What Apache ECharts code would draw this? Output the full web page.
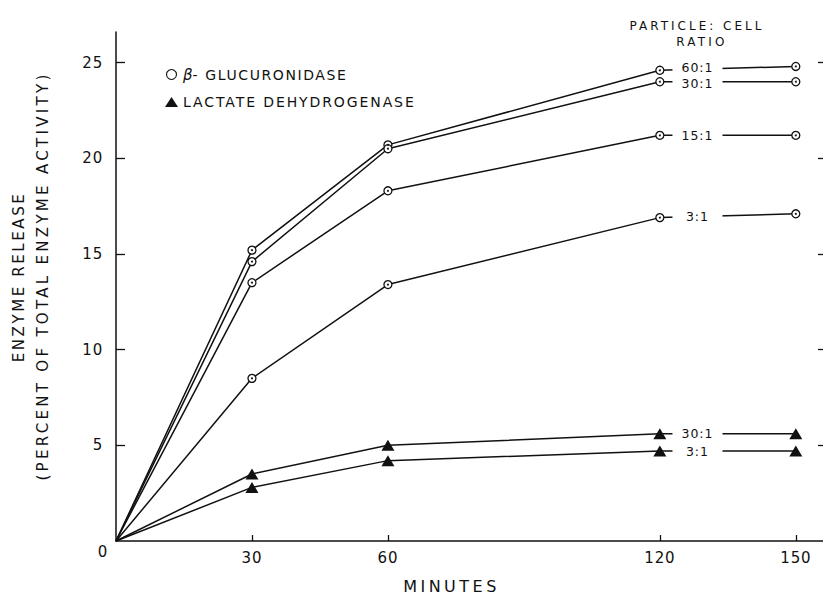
<!DOCTYPE html>
<html>
<head>
<meta charset="utf-8">
<script src="https://cdn.jsdelivr.net/npm/echarts@6/dist/echarts.min.js"></script>
<style>
html, body { margin: 0; padding: 0; background: #fff; }
#chart { width: 823px; height: 596px; }
</style>
</head>
<body>
<div id="chart"></div>
<script>
// ---- data ----
const minutes = [0, 30, 60, 120, 150];
const gluc60 = [0, 15.2, 20.7, 24.6, 24.8];
const gluc30 = [0, 14.6, 20.5, 24.0, 24.0];
const gluc15 = [0, 13.5, 18.3, 21.2, 21.2];
const gluc3  = [0, 8.5, 13.4, 16.9, 17.1];
const ldh30  = [0, 3.5, 5.0, 5.6, 5.6];
const ldh3   = [0, 2.8, 4.2, 4.7, 4.7];
const glucRatios = ['60:1', '30:1', '15:1', '3:1'];
const ldhRatios = ['30:1', '3:1'];
const xTickValues = [30, 60, 120, 150];
const xLabelValues = [0, 30, 60, 120, 150];
const yTickValues = [5, 10, 15, 20, 25];
const GLUC = 'β- GLUCURONIDASE';
const LDH = 'LACTATE DEHYDROGENASE';
const Y_TITLE_1 = 'ENZYME RELEASE';
const Y_TITLE_2 = '(PERCENT OF TOTAL ENZYME ACTIVITY)';
const HEAD_1 = 'PARTICLE: CELL';
const HEAD_2 = 'RATIO';
const LABEL_X = 128.3; // minutes position of the ratio labels between 120 and 150

// ---- styling ----
const INK = '#111';
const FONT = 'DejaVu Sans';
const GLUC_LABEL_NUDGE = [-1.3, 1.3, 0, 0]; // px, keeps the two close top labels apart
const SPACING = {};
SPACING[Y_TITLE_1] = 2.6;
SPACING[Y_TITLE_2] = 3.3;
SPACING['MINUTES'] = 3.5;
SPACING[HEAD_1] = 3;
SPACING[HEAD_2] = 3.2;
SPACING[LDH] = 1.9;
SPACING['- GLUCURONIDASE'] = 1.6;
SPACING['β'] = 0;

const glucSeries = [gluc60, gluc30, gluc15, gluc3];
const ldhSeries = [ldh30, ldh3];

function lineData(vals) {
  return minutes.map((m, i) => i === 0 ? { value: [m, vals[i]], symbol: 'none' } : [m, vals[i]]);
}
function labelPoint(vals, text, nudge) {
  const a = minutes.indexOf(120), b = minutes.indexOf(150);
  const y = vals[a] + (vals[b] - vals[a]) * (LABEL_X - minutes[a]) / (minutes[b] - minutes[a]);
  return { value: [LABEL_X, y], name: text, label: { offset: [0, nudge || 0] } };
}

const series = [];
glucSeries.forEach(vals => {
  series.push({
    type: 'line', name: GLUC, data: lineData(vals),
    symbol: 'circle', symbolSize: 8,
    lineStyle: { color: INK, width: 1.5 },
    itemStyle: { color: '#fff', borderColor: INK, borderWidth: 1.3 },
    silent: true
  });
});
ldhSeries.forEach(vals => {
  series.push({
    type: 'line', name: LDH, data: lineData(vals),
    symbol: 'triangle', symbolSize: [13, 11],
    lineStyle: { color: INK, width: 1.5 },
    itemStyle: { color: INK },
    silent: true
  });
});
// center dots of the open circles
series.push({
  type: 'scatter', name: 'centers', silent: true, z: 4,
  symbolSize: 2, itemStyle: { color: INK, opacity: 1 },
  data: glucSeries.flatMap(vals => minutes.map((m, i) => [m, vals[i]]).filter((p, i) => i > 0))
});
// ratio labels, set in a white gap of the 120-150 segment
series.push({
  type: 'scatter', name: 'ratios', silent: true, z: 10,
  symbol: 'rect', symbolSize: [50, 10], itemStyle: { color: '#fff', opacity: 1 },
  data: glucSeries.map((v, i) => labelPoint(v, glucRatios[i], GLUC_LABEL_NUDGE[i]))
    .concat(ldhSeries.map((v, i) => labelPoint(v, ldhRatios[i], 0))),
  label: {
    show: true, position: 'inside', formatter: p => p.name,
    color: INK, fontSize: 12.5, fontFamily: FONT, lineHeight: 12
  }
});

const option = {
  animation: false,
  backgroundColor: '#fff',
  grid: { left: 116, right: 0, top: 32, bottom: 55, containLabel: false, outerBoundsMode: 'none' },
  legend: {
    left: 160, top: 62, orient: 'vertical', itemGap: 13,
    itemWidth: 13, itemHeight: 10,
    data: [{ name: GLUC, icon: 'circle', itemStyle: { borderWidth: 1.1 } }, { name: LDH, icon: 'triangle' }],
    formatter: name => name === GLUC ? '{i|β}{t|- GLUCURONIDASE}' : name,
    textStyle: {
      color: INK, fontSize: 14, fontFamily: FONT,
      rich: {
        i: { fontStyle: 'italic', fontSize: 15, fontFamily: FONT, color: INK },
        t: { fontSize: 14, fontFamily: FONT, color: INK }
      }
    },
    selectedMode: false
  },
  xAxis: {
    type: 'value', min: 0, max: 156,
    axisLine: { show: true, lineStyle: { color: INK, width: 1.5 } },
    axisTick: { show: true, inside: true, length: 6, customValues: xTickValues, lineStyle: { color: INK, width: 1.3 } },
    axisLabel: {
      customValues: xLabelValues, margin: 3,
      formatter: v => v === 0 ? '{z|0}' : '{n|' + v + '}',
      rich: {
        z: { padding: [0, 26, 0, 0], fontSize: 15, fontFamily: FONT, color: INK },
        n: { padding: [6, 0, 0, 0], fontSize: 15, fontFamily: FONT, color: INK }
      }
    },
    splitLine: { show: false },
    name: 'MINUTES', nameLocation: 'middle', nameGap: 37,
    nameTextStyle: { fontSize: 16, fontFamily: FONT, color: INK, padding: [0, 36, 0, 0] }
  },
  yAxis: [{
    type: 'value', min: 0, max: 26.6, position: 'left',
    axisLine: { show: true, lineStyle: { color: INK, width: 1.5 } },
    axisTick: { show: true, inside: true, length: 9, customValues: yTickValues, lineStyle: { color: INK, width: 1.3 } },
    axisLabel: { customValues: yTickValues, margin: 13, fontSize: 15, fontFamily: FONT, color: INK },
    splitLine: { show: false }
  }, {
    type: 'value', min: 0, max: 26.6, position: 'right',
    axisLine: { show: false },
    axisTick: { show: true, inside: true, length: 5, customValues: yTickValues, lineStyle: { color: INK, width: 1.3 } },
    axisLabel: { show: false },
    splitLine: { show: false }
  }],
  graphic: [{
    type: 'text', x: 19, y: 277, rotation: Math.PI / 2, silent: true,
    style: { text: Y_TITLE_1, align: 'center', verticalAlign: 'middle', fontSize: 15, fontFamily: FONT, fill: INK }
  }, {
    type: 'text', x: 43, y: 276, rotation: Math.PI / 2, silent: true,
    style: { text: Y_TITLE_2, align: 'center', verticalAlign: 'middle', fontSize: 15, fontFamily: FONT, fill: INK }
  }, {
    type: 'text', x: 697, y: 26, silent: true,
    style: { text: HEAD_1, align: 'center', verticalAlign: 'middle', fontSize: 12, fontFamily: FONT, fill: INK }
  }, {
    type: 'text', x: 702, y: 42, silent: true,
    style: { text: HEAD_2, align: 'center', verticalAlign: 'middle', fontSize: 12, fontFamily: FONT, fill: INK }
  }],
  series: series
};

const dom = document.getElementById('chart');
const chart = echarts.init(dom, null, { renderer: 'svg' });
chart.setOption(option);

function spacingFor(str) {
  const key = str.trim();
  if (SPACING[key] !== undefined) return SPACING[key];
  return /^[\d.]+$/.test(key) ? 0.8 : 1;
}
function applyLetterSpacing() {
  dom.querySelectorAll('text').forEach(t => {
    const spans = t.querySelectorAll('tspan');
    if (spans.length) {
      spans.forEach(sp => { sp.style.letterSpacing = spacingFor(sp.textContent) + 'px'; });
    } else {
      t.style.letterSpacing = spacingFor(t.textContent) + 'px';
    }
  });
}
applyLetterSpacing();
chart.on('finished', applyLetterSpacing);
</script>
</body>
</html>
